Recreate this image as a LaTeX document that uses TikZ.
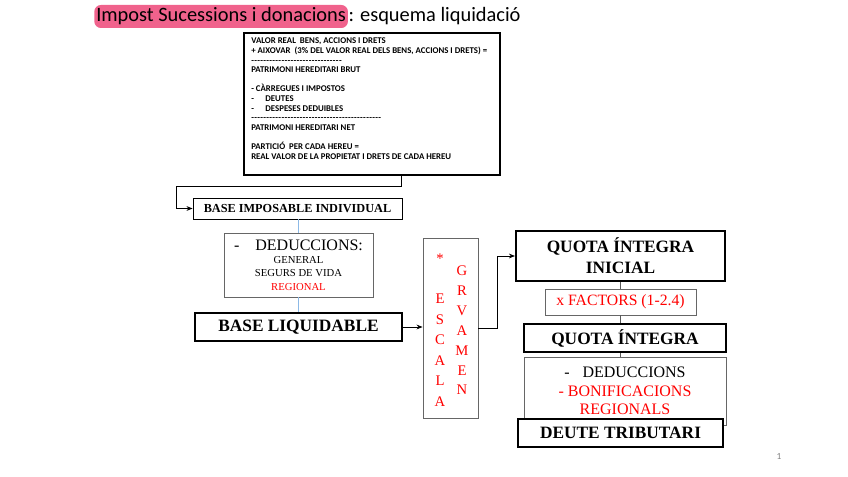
\documentclass[tikz,border=0pt]{standalone}
\usepackage{fontspec}
\setmainfont{Liberation Serif}
\newfontfamily\slidefont{Carlito}
\usetikzlibrary{arrows.meta}

\definecolor{hlpink}{RGB}{240,98,140}
\definecolor{linkblue}{RGB}{140,185,230}
\newcommand{\dashrow}[1]{\foreach \k in {1,...,#1}{-\kern0.25pt}}

\begin{document}
\begin{tikzpicture}[x=0.75pt,y=-0.75pt,
  >={Stealth[length=4.5pt,width=3.6pt]},
  thickbox/.style={draw,line width=1.6pt,fill=white,inner sep=0pt,align=center},
  thinbox/.style={draw,line width=0.7pt,fill=white,inner sep=0pt,align=center},
  graybox/.style={draw=black!60,line width=0.7pt,fill=white,inner sep=0pt,align=center},
  hd/.style={font=\fontsize{13}{15.75}\selectfont\bfseries},
  link/.style={line width=0.6pt},
  blueline/.style={draw=linkblue,line width=0.6pt},
  grayline/.style={draw=black!65,line width=0.6pt}]
\useasboundingbox (0,0) rectangle (848,477);

% title
\node[fill=hlpink,rounded corners=5pt,inner xsep=1.5pt,inner ysep=0pt,minimum height=17.25pt,
  font=\slidefont\fontsize{15.3}{18}\selectfont,anchor=west] (titlehl) at (94,16.5) {Impost Sucessions i donacions};
\node[font=\slidefont\fontsize{15.3}{18}\selectfont,anchor=base west,inner xsep=0pt] (titlerest) at (titlehl.base east) {: esquema liquidació};

% left column
\node[thickbox,minimum width=192pt,minimum height=106.5pt] (patrimoni) at (372,104) {};
\node[font=\slidefont\fontsize{6.6}{7.2}\selectfont\bfseries,align=left,anchor=north west,inner sep=0pt] (patrimonitxt) at (251,37.8)
  {VALOR REAL\ \ BENS, ACCIONS I DRETS\\
   + AIXOVAR\ \ (3\% DEL VALOR REAL DELS BENS, ACCIONS I DRETS) =\\
   \dashrow{30}\\
   PATRIMONI HEREDITARI BRUT\\[7.2pt]
   - CÀRREGUES I IMPOSTOS\\
   -\hspace{1.3em}DEUTES\\
   -\hspace{1.3em}DESPESES DEDUIBLES\\
   \dashrow{43}\\
   PATRIMONI HEREDITARI NET\\[7.2pt]
   PARTICIÓ\ \ PER CADA HEREU =\\
   REAL VALOR DE LA PROPIETAT I DRETS DE CADA HEREU};

\node[thinbox,minimum width=156.75pt,minimum height=15.75pt,font=\fontsize{9.2}{11}\selectfont\bfseries] (baseimp) at (297.5,208.5) {BASE IMPOSABLE INDIVIDUAL};
\node[graybox,minimum width=111.75pt,minimum height=48pt,font=\fontsize{8}{10}\selectfont] (deduc) at (298.5,265)
  {{\fontsize{12}{13}\selectfont -\hspace{1em}DEDUCCIONS:}\\ GENERAL\\ SEGURS DE VIDA\\ \textcolor{red}{REGIONAL}};
\node[thickbox,hd,minimum width=155.25pt,minimum height=21pt] (baseliq) at (298.5,327) {BASE LIQUIDABLE};

% escala
\node[graybox,minimum width=41.25pt,minimum height=135pt] (escala) at (450.5,328) {};
\node[text=red,font=\fontsize{11}{15.4}\selectfont,align=center,inner sep=0pt] (escalatxt) at (440,330) {*\\[15pt]E\\S\\C\\A\\L\\A};
\node[text=red,font=\fontsize{11}{14.9}\selectfont,align=center,inner sep=0pt] (gravamentxt) at (462,330.5) {G\\R\\V\\A\\M\\E\\N};

% right column
\node[thickbox,hd,minimum width=156.75pt,minimum height=37.5pt] (quotaini) at (620.5,256) {QUOTA ÍNTEGRA\\INICIAL};
\node[graybox,minimum width=113.25pt,minimum height=19.5pt,text=red,font=\fontsize{11.8}{14}\selectfont] (factors) at (620.5,302) {x FACTORS (1-2.4)};
\node[thickbox,hd,minimum width=151.5pt,minimum height=21pt] (quota) at (625,338) {QUOTA ÍNTEGRA};
\node[graybox,minimum width=151.5pt,minimum height=51pt,font=\fontsize{12}{13.9}\selectfont] (deduc2) at (625,391)
  {-\hspace{0.8em}DEDUCCIONS\\ \textcolor{red}{- BONIFICACIONS}\\ \textcolor{red}{REGIONALS}};
\node[thickbox,hd,minimum width=153.75pt,minimum height=21pt] (deute) at (620.5,433) {DEUTE TRIBUTARI};

% connectors
\coordinate (bendtop) at (176,186);
\draw[->,link] ([xshift=118.5pt]patrimoni.south west) |- (bendtop) |- (baseimp.west);
\draw[blueline] (deduc.north) -- (deduc.north |- baseimp.south);
\draw[blueline] (deduc.south) -- (deduc.south |- baseliq.north);
\draw[->,link] (baseliq.east) -- (baseliq.east -| escala.west);
\draw[->,link] (escala.east) -- ++(18.5,0) |- (quotaini.west);
\draw[grayline] (quotaini.south) -- (factors.north);
\draw[grayline] (factors.south) -- (factors.south |- quota.north);
\draw[grayline] (factors.south |- quota.south) -- (factors.south |- deduc2.north);

\node[text=black!50,font=\slidefont\fontsize{7}{8}\selectfont] (pagenum) at (779,456) {1};
\end{tikzpicture}
\end{document}
